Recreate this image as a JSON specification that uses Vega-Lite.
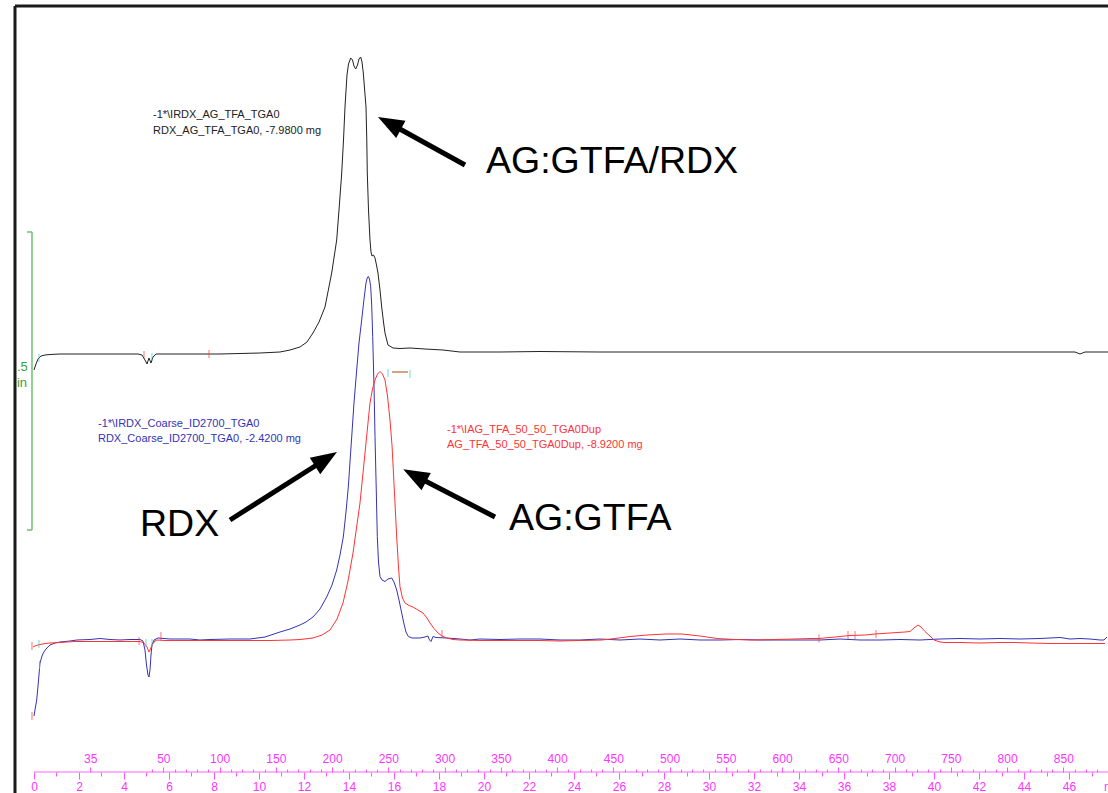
{
  "$schema": "https://vega.github.io/schema/vega-lite/v6.json",
  "autosize": "none",
  "width": 1093,
  "height": 766,
  "padding": {"left": 15, "top": 6, "right": 0, "bottom": 21},
  "background": "white",
  "config": {"view": {"stroke": null}, "font": "Liberation Sans", "text": {"font": "Liberation Sans"}},
  "datasets": {
    "curves": [
      {"series":"AG:GTFA/RDX","t":0,"v":0.800},{"series":"AG:GTFA/RDX","t":0.089,"v":0.812},{"series":"AG:GTFA/RDX","t":0.178,"v":0.822},{"series":"AG:GTFA/RDX","t":0.311,"v":0.828},{"series":"AG:GTFA/RDX","t":0.489,"v":0.830},{"series":"AG:GTFA/RDX","t":0.711,"v":0.831},{"series":"AG:GTFA/RDX","t":1.156,"v":0.832},{"series":"AG:GTFA/RDX","t":2.044,"v":0.832},{"series":"AG:GTFA/RDX","t":2.933,"v":0.832},{"series":"AG:GTFA/RDX","t":3.822,"v":0.832},{"series":"AG:GTFA/RDX","t":4.622,"v":0.832},{"series":"AG:GTFA/RDX","t":4.8,"v":0.830},{"series":"AG:GTFA/RDX","t":4.933,"v":0.820},{"series":"AG:GTFA/RDX","t":5.022,"v":0.812},{"series":"AG:GTFA/RDX","t":5.111,"v":0.824},{"series":"AG:GTFA/RDX","t":5.2,"v":0.814},{"series":"AG:GTFA/RDX","t":5.289,"v":0.826},{"series":"AG:GTFA/RDX","t":5.422,"v":0.832},{"series":"AG:GTFA/RDX","t":5.822,"v":0.832},{"series":"AG:GTFA/RDX","t":6.489,"v":0.832},{"series":"AG:GTFA/RDX","t":7.378,"v":0.832},{"series":"AG:GTFA/RDX","t":8.267,"v":0.832},{"series":"AG:GTFA/RDX","t":9.156,"v":0.833},{"series":"AG:GTFA/RDX","t":10.044,"v":0.834},{"series":"AG:GTFA/RDX","t":10.489,"v":0.835},{"series":"AG:GTFA/RDX","t":10.933,"v":0.836},{"series":"AG:GTFA/RDX","t":11.378,"v":0.840},{"series":"AG:GTFA/RDX","t":11.822,"v":0.846},{"series":"AG:GTFA/RDX","t":12.133,"v":0.856},{"series":"AG:GTFA/RDX","t":12.4,"v":0.874},{"series":"AG:GTFA/RDX","t":12.667,"v":0.896},{"series":"AG:GTFA/RDX","t":12.933,"v":0.926},{"series":"AG:GTFA/RDX","t":13.231,"v":0.994},{"series":"AG:GTFA/RDX","t":13.453,"v":1.060},{"series":"AG:GTFA/RDX","t":13.556,"v":1.120},{"series":"AG:GTFA/RDX","t":13.676,"v":1.194},{"series":"AG:GTFA/RDX","t":13.756,"v":1.260},{"series":"AG:GTFA/RDX","t":13.822,"v":1.326},{"series":"AG:GTFA/RDX","t":13.911,"v":1.390},{"series":"AG:GTFA/RDX","t":13.978,"v":1.412},{"series":"AG:GTFA/RDX","t":14.076,"v":1.424},{"series":"AG:GTFA/RDX","t":14.156,"v":1.420},{"series":"AG:GTFA/RDX","t":14.222,"v":1.408},{"series":"AG:GTFA/RDX","t":14.298,"v":1.402},{"series":"AG:GTFA/RDX","t":14.378,"v":1.410},{"series":"AG:GTFA/RDX","t":14.444,"v":1.422},{"series":"AG:GTFA/RDX","t":14.52,"v":1.426},{"series":"AG:GTFA/RDX","t":14.578,"v":1.416},{"series":"AG:GTFA/RDX","t":14.636,"v":1.394},{"series":"AG:GTFA/RDX","t":14.689,"v":1.364},{"series":"AG:GTFA/RDX","t":14.756,"v":1.326},{"series":"AG:GTFA/RDX","t":14.791,"v":1.260},{"series":"AG:GTFA/RDX","t":14.813,"v":1.194},{"series":"AG:GTFA/RDX","t":14.867,"v":1.120},{"series":"AG:GTFA/RDX","t":14.933,"v":1.060},{"series":"AG:GTFA/RDX","t":14.978,"v":1.036},{"series":"AG:GTFA/RDX","t":15.022,"v":1.028},{"series":"AG:GTFA/RDX","t":15.089,"v":1.030},{"series":"AG:GTFA/RDX","t":15.156,"v":1.024},{"series":"AG:GTFA/RDX","t":15.222,"v":1.010},{"series":"AG:GTFA/RDX","t":15.289,"v":0.994},{"series":"AG:GTFA/RDX","t":15.378,"v":0.960},{"series":"AG:GTFA/RDX","t":15.453,"v":0.926},{"series":"AG:GTFA/RDX","t":15.533,"v":0.896},{"series":"AG:GTFA/RDX","t":15.6,"v":0.874},{"series":"AG:GTFA/RDX","t":15.733,"v":0.850},{"series":"AG:GTFA/RDX","t":15.956,"v":0.844},{"series":"AG:GTFA/RDX","t":16.267,"v":0.843},{"series":"AG:GTFA/RDX","t":16.711,"v":0.844},{"series":"AG:GTFA/RDX","t":17.378,"v":0.842},{"series":"AG:GTFA/RDX","t":18.178,"v":0.840},{"series":"AG:GTFA/RDX","t":18.933,"v":0.836},{"series":"AG:GTFA/RDX","t":20.711,"v":0.836},{"series":"AG:GTFA/RDX","t":22.489,"v":0.837},{"series":"AG:GTFA/RDX","t":25.156,"v":0.836},{"series":"AG:GTFA/RDX","t":29.6,"v":0.836},{"series":"AG:GTFA/RDX","t":34.044,"v":0.836},{"series":"AG:GTFA/RDX","t":38.489,"v":0.836},{"series":"AG:GTFA/RDX","t":42.933,"v":0.836},{"series":"AG:GTFA/RDX","t":46.267,"v":0.836},{"series":"AG:GTFA/RDX","t":46.489,"v":0.832},{"series":"AG:GTFA/RDX","t":46.711,"v":0.836},{"series":"AG:GTFA/RDX","t":47.733,"v":0.836},
      {"series":"RDX","t":0,"v":0.108},{"series":"RDX","t":0.044,"v":0.120},{"series":"RDX","t":0.12,"v":0.140},{"series":"RDX","t":0.191,"v":0.174},{"series":"RDX","t":0.267,"v":0.214},{"series":"RDX","t":0.356,"v":0.228},{"series":"RDX","t":0.413,"v":0.234},{"series":"RDX","t":0.533,"v":0.242},{"series":"RDX","t":0.711,"v":0.250},{"series":"RDX","t":0.933,"v":0.254},{"series":"RDX","t":1.156,"v":0.256},{"series":"RDX","t":1.6,"v":0.258},{"series":"RDX","t":1.911,"v":0.260},{"series":"RDX","t":2.489,"v":0.261},{"series":"RDX","t":2.933,"v":0.263},{"series":"RDX","t":3.378,"v":0.261},{"series":"RDX","t":3.822,"v":0.260},{"series":"RDX","t":4.267,"v":0.261},{"series":"RDX","t":4.711,"v":0.261},{"series":"RDX","t":4.844,"v":0.258},{"series":"RDX","t":4.933,"v":0.240},{"series":"RDX","t":5.0,"v":0.210},{"series":"RDX","t":5.067,"v":0.190},{"series":"RDX","t":5.111,"v":0.186},{"series":"RDX","t":5.156,"v":0.200},{"series":"RDX","t":5.2,"v":0.230},{"series":"RDX","t":5.244,"v":0.250},{"series":"RDX","t":5.333,"v":0.260},{"series":"RDX","t":5.511,"v":0.264},{"series":"RDX","t":6.044,"v":0.262},{"series":"RDX","t":6.933,"v":0.262},{"series":"RDX","t":7.378,"v":0.260},{"series":"RDX","t":7.822,"v":0.261},{"series":"RDX","t":8.711,"v":0.262},{"series":"RDX","t":9.6,"v":0.262},{"series":"RDX","t":10.267,"v":0.266},{"series":"RDX","t":10.933,"v":0.276},{"series":"RDX","t":11.378,"v":0.282},{"series":"RDX","t":11.822,"v":0.290},{"series":"RDX","t":12.089,"v":0.296},{"series":"RDX","t":12.4,"v":0.306},{"series":"RDX","t":12.711,"v":0.322},{"series":"RDX","t":13.009,"v":0.346},{"series":"RDX","t":13.244,"v":0.370},{"series":"RDX","t":13.453,"v":0.400},{"series":"RDX","t":13.6,"v":0.430},{"series":"RDX","t":13.747,"v":0.466},{"series":"RDX","t":13.867,"v":0.516},{"series":"RDX","t":13.969,"v":0.566},{"series":"RDX","t":14.12,"v":0.666},{"series":"RDX","t":14.222,"v":0.734},{"series":"RDX","t":14.342,"v":0.800},{"series":"RDX","t":14.444,"v":0.854},{"series":"RDX","t":14.564,"v":0.900},{"series":"RDX","t":14.667,"v":0.942},{"series":"RDX","t":14.756,"v":0.974},{"series":"RDX","t":14.809,"v":0.984},{"series":"RDX","t":14.858,"v":0.987},{"series":"RDX","t":14.911,"v":0.982},{"series":"RDX","t":14.964,"v":0.967},{"series":"RDX","t":15.009,"v":0.930},{"series":"RDX","t":15.053,"v":0.867},{"series":"RDX","t":15.111,"v":0.770},{"series":"RDX","t":15.156,"v":0.667},{"series":"RDX","t":15.209,"v":0.566},{"series":"RDX","t":15.258,"v":0.467},{"series":"RDX","t":15.311,"v":0.416},{"series":"RDX","t":15.378,"v":0.387},{"series":"RDX","t":15.467,"v":0.380},{"series":"RDX","t":15.6,"v":0.377},{"series":"RDX","t":15.733,"v":0.382},{"series":"RDX","t":15.898,"v":0.384},{"series":"RDX","t":16.0,"v":0.376},{"series":"RDX","t":16.12,"v":0.360},{"series":"RDX","t":16.222,"v":0.340},{"series":"RDX","t":16.342,"v":0.314},{"series":"RDX","t":16.444,"v":0.292},{"series":"RDX","t":16.533,"v":0.276},{"series":"RDX","t":16.636,"v":0.267},{"series":"RDX","t":16.8,"v":0.264},{"series":"RDX","t":17.156,"v":0.264},{"series":"RDX","t":17.378,"v":0.266},{"series":"RDX","t":17.511,"v":0.268},{"series":"RDX","t":17.578,"v":0.260},{"series":"RDX","t":17.644,"v":0.257},{"series":"RDX","t":17.733,"v":0.267},{"series":"RDX","t":17.867,"v":0.265},{"series":"RDX","t":18.342,"v":0.264},{"series":"RDX","t":18.933,"v":0.262},{"series":"RDX","t":19.378,"v":0.260},{"series":"RDX","t":19.822,"v":0.262},{"series":"RDX","t":20.711,"v":0.261},{"series":"RDX","t":21.6,"v":0.262},{"series":"RDX","t":22.489,"v":0.262},{"series":"RDX","t":23.378,"v":0.260},{"series":"RDX","t":24.267,"v":0.260},{"series":"RDX","t":25.156,"v":0.262},{"series":"RDX","t":26.044,"v":0.260},{"series":"RDX","t":26.933,"v":0.262},{"series":"RDX","t":27.822,"v":0.260},{"series":"RDX","t":28.711,"v":0.262},{"series":"RDX","t":29.6,"v":0.260},{"series":"RDX","t":30.489,"v":0.260},{"series":"RDX","t":31.378,"v":0.261},{"series":"RDX","t":32.267,"v":0.260},{"series":"RDX","t":33.156,"v":0.260},{"series":"RDX","t":34.044,"v":0.260},{"series":"RDX","t":34.933,"v":0.260},{"series":"RDX","t":35.822,"v":0.262},{"series":"RDX","t":36.711,"v":0.260},{"series":"RDX","t":37.6,"v":0.260},{"series":"RDX","t":38.489,"v":0.261},{"series":"RDX","t":39.378,"v":0.260},{"series":"RDX","t":40.267,"v":0.262},{"series":"RDX","t":41.156,"v":0.263},{"series":"RDX","t":42.044,"v":0.262},{"series":"RDX","t":42.933,"v":0.263},{"series":"RDX","t":43.822,"v":0.262},{"series":"RDX","t":44.711,"v":0.263},{"series":"RDX","t":45.6,"v":0.265},{"series":"RDX","t":46.044,"v":0.262},{"series":"RDX","t":46.489,"v":0.263},{"series":"RDX","t":46.933,"v":0.262},{"series":"RDX","t":47.378,"v":0.260},{"series":"RDX","t":47.556,"v":0.260},{"series":"RDX","t":47.689,"v":0.266},
      {"series":"AG:GTFA","t":-0.044,"v":0.246},{"series":"AG:GTFA","t":0.089,"v":0.249},{"series":"AG:GTFA","t":0.267,"v":0.251},{"series":"AG:GTFA","t":0.489,"v":0.253},{"series":"AG:GTFA","t":0.711,"v":0.254},{"series":"AG:GTFA","t":1.156,"v":0.255},{"series":"AG:GTFA","t":1.467,"v":0.256},{"series":"AG:GTFA","t":1.822,"v":0.257},{"series":"AG:GTFA","t":2.489,"v":0.257},{"series":"AG:GTFA","t":3.378,"v":0.257},{"series":"AG:GTFA","t":4.267,"v":0.257},{"series":"AG:GTFA","t":4.711,"v":0.257},{"series":"AG:GTFA","t":4.889,"v":0.254},{"series":"AG:GTFA","t":5.022,"v":0.246},{"series":"AG:GTFA","t":5.111,"v":0.236},{"series":"AG:GTFA","t":5.178,"v":0.242},{"series":"AG:GTFA","t":5.244,"v":0.250},{"series":"AG:GTFA","t":5.378,"v":0.258},{"series":"AG:GTFA","t":5.467,"v":0.260},{"series":"AG:GTFA","t":5.822,"v":0.259},{"series":"AG:GTFA","t":6.933,"v":0.259},{"series":"AG:GTFA","t":8.267,"v":0.259},{"series":"AG:GTFA","t":9.6,"v":0.259},{"series":"AG:GTFA","t":10.489,"v":0.259},{"series":"AG:GTFA","t":11.378,"v":0.260},{"series":"AG:GTFA","t":11.822,"v":0.261},{"series":"AG:GTFA","t":12.4,"v":0.264},{"series":"AG:GTFA","t":12.8,"v":0.270},{"series":"AG:GTFA","t":13.156,"v":0.280},{"series":"AG:GTFA","t":13.467,"v":0.302},{"series":"AG:GTFA","t":13.733,"v":0.334},{"series":"AG:GTFA","t":13.956,"v":0.378},{"series":"AG:GTFA","t":14.178,"v":0.434},{"series":"AG:GTFA","t":14.333,"v":0.484},{"series":"AG:GTFA","t":14.489,"v":0.534},{"series":"AG:GTFA","t":14.6,"v":0.584},{"series":"AG:GTFA","t":14.711,"v":0.634},{"series":"AG:GTFA","t":14.822,"v":0.684},{"series":"AG:GTFA","t":14.933,"v":0.734},{"series":"AG:GTFA","t":15.044,"v":0.762},{"series":"AG:GTFA","t":15.156,"v":0.780},{"series":"AG:GTFA","t":15.267,"v":0.792},{"series":"AG:GTFA","t":15.378,"v":0.797},{"series":"AG:GTFA","t":15.489,"v":0.792},{"series":"AG:GTFA","t":15.6,"v":0.780},{"series":"AG:GTFA","t":15.711,"v":0.748},{"series":"AG:GTFA","t":15.822,"v":0.700},{"series":"AG:GTFA","t":15.911,"v":0.650},{"series":"AG:GTFA","t":15.969,"v":0.600},{"series":"AG:GTFA","t":16.044,"v":0.534},{"series":"AG:GTFA","t":16.12,"v":0.466},{"series":"AG:GTFA","t":16.2,"v":0.406},{"series":"AG:GTFA","t":16.267,"v":0.366},{"series":"AG:GTFA","t":16.378,"v":0.344},{"series":"AG:GTFA","t":16.489,"v":0.334},{"series":"AG:GTFA","t":16.667,"v":0.329},{"series":"AG:GTFA","t":16.844,"v":0.326},{"series":"AG:GTFA","t":17.067,"v":0.320},{"series":"AG:GTFA","t":17.289,"v":0.314},{"series":"AG:GTFA","t":17.467,"v":0.304},{"series":"AG:GTFA","t":17.6,"v":0.294},{"series":"AG:GTFA","t":17.778,"v":0.283},{"series":"AG:GTFA","t":17.956,"v":0.274},{"series":"AG:GTFA","t":18.133,"v":0.268},{"series":"AG:GTFA","t":18.342,"v":0.264},{"series":"AG:GTFA","t":18.622,"v":0.261},{"series":"AG:GTFA","t":18.933,"v":0.260},{"series":"AG:GTFA","t":19.822,"v":0.259},{"series":"AG:GTFA","t":20.711,"v":0.259},{"series":"AG:GTFA","t":21.6,"v":0.259},{"series":"AG:GTFA","t":22.489,"v":0.259},{"series":"AG:GTFA","t":23.378,"v":0.258},{"series":"AG:GTFA","t":24.267,"v":0.259},{"series":"AG:GTFA","t":25.244,"v":0.260},{"series":"AG:GTFA","t":25.822,"v":0.263},{"series":"AG:GTFA","t":26.489,"v":0.267},{"series":"AG:GTFA","t":27.244,"v":0.270},{"series":"AG:GTFA","t":28.044,"v":0.272},{"series":"AG:GTFA","t":28.8,"v":0.272},{"series":"AG:GTFA","t":29.6,"v":0.268},{"series":"AG:GTFA","t":30.356,"v":0.263},{"series":"AG:GTFA","t":31.156,"v":0.261},{"series":"AG:GTFA","t":31.911,"v":0.260},{"series":"AG:GTFA","t":32.933,"v":0.261},{"series":"AG:GTFA","t":33.778,"v":0.262},{"series":"AG:GTFA","t":34.489,"v":0.263},{"series":"AG:GTFA","t":34.889,"v":0.263},{"series":"AG:GTFA","t":35.6,"v":0.266},{"series":"AG:GTFA","t":36.267,"v":0.269},{"series":"AG:GTFA","t":36.933,"v":0.270},{"series":"AG:GTFA","t":37.378,"v":0.272},{"series":"AG:GTFA","t":38.044,"v":0.274},{"series":"AG:GTFA","t":38.711,"v":0.276},{"series":"AG:GTFA","t":38.933,"v":0.277},{"series":"AG:GTFA","t":39.111,"v":0.284},{"series":"AG:GTFA","t":39.289,"v":0.290},{"series":"AG:GTFA","t":39.422,"v":0.286},{"series":"AG:GTFA","t":39.6,"v":0.277},{"series":"AG:GTFA","t":39.822,"v":0.268},{"series":"AG:GTFA","t":40.0,"v":0.260},{"series":"AG:GTFA","t":40.267,"v":0.256},{"series":"AG:GTFA","t":40.489,"v":0.255},{"series":"AG:GTFA","t":41.156,"v":0.255},{"series":"AG:GTFA","t":42.044,"v":0.254},{"series":"AG:GTFA","t":42.933,"v":0.255},{"series":"AG:GTFA","t":43.556,"v":0.255},{"series":"AG:GTFA","t":44.267,"v":0.254},{"series":"AG:GTFA","t":45.156,"v":0.253},{"series":"AG:GTFA","t":46.044,"v":0.253},{"series":"AG:GTFA","t":46.667,"v":0.253},{"series":"AG:GTFA","t":47.6,"v":0.253}
    ],
    "markers": [
      {"kind":"cursor","t":0.222,"v":0.824},{"kind":"limit","t":4.889,"v":0.830},{"kind":"cursor","t":5.244,"v":0.826},{"kind":"limit","t":7.778,"v":0.832},
      {"kind":"limit","t":-0.089,"v":0.248},{"kind":"cursor","t":0.222,"v":0.252},{"kind":"cursor","t":0.244,"v":0.210},{"kind":"limit","t":-0.089,"v":0.108},
      {"kind":"limit","t":4.667,"v":0.258},{"kind":"cursor","t":4.978,"v":0.254},{"kind":"cursor","t":5.244,"v":0.254},{"kind":"limit","t":5.644,"v":0.268},
      {"kind":"cursor","t":15.733,"v":0.794},{"kind":"cursor","t":16.711,"v":0.792},{"kind":"limit","t":18.133,"v":0.272},
      {"kind":"limit","t":34.889,"v":0.263},{"kind":"limit","t":36.178,"v":0.270},{"kind":"limit","t":36.489,"v":0.270},{"kind":"limit","t":37.422,"v":0.272}
    ],
    "ranges": [{"t":15.911,"v":0.796,"t2":16.622,"v2":0.796}],
    "notes": [
      {"series":"AG:GTFA/RDX","t":5.289,"v":1.310,"text":"-1*\\IRDX_AG_TFA_TGA0"},
      {"series":"AG:GTFA/RDX","t":5.289,"v":1.278,"text":"RDX_AG_TFA_TGA0, -7.9800 mg"},
      {"series":"RDX","t":2.844,"v":0.692,"text":"-1*\\IRDX_Coarse_ID2700_TGA0"},
      {"series":"RDX","t":2.844,"v":0.662,"text":"RDX_Coarse_ID2700_TGA0, -2.4200 mg"},
      {"series":"AG:GTFA","t":18.356,"v":0.680,"text":"-1*\\IAG_TFA_50_50_TGA0Dup"},
      {"series":"AG:GTFA","t":18.356,"v":0.650,"text":"AG_TFA_50_50_TGA0Dup, -8.9200 mg"}
    ],
    "callouts": [
      {"t":20.089,"v":1.216,"text":"AG:GTFA/RDX"},
      {"t":4.711,"v":0.490,"text":"RDX"},
      {"t":21.111,"v":0.502,"text":"AG:GTFA"}
    ],
    "arrows": [
      {"arrow":"a1","t":19.156,"v":1.210,"t2":15.796,"v2":1.2936},
      {"arrow":"a2","t":8.711,"v":0.500,"t2":12.978,"v2":0.622},
      {"arrow":"a3","t":20.489,"v":0.506,"t2":16.92,"v2":0.589}
    ],
    "frame": [
      {"t":-0.844,"v":1.528,"t2":-0.844,"v2":-0.046},
      {"t":-0.844,"v":1.528,"t2":47.733,"v2":1.528}
    ],
    "scalebar": [
      {"t":-0.089,"v":1.076,"t2":-0.089,"v2":0.480},
      {"t":-0.311,"v":1.076,"t2":-0.089,"v2":1.076},
      {"t":-0.311,"v":0.480,"t2":-0.089,"v2":0.480}
    ],
    "scalelabels": [
      {"t":-0.756,"v":0.806,"text":".5"},
      {"t":-0.756,"v":0.774,"text":"in"}
    ],
    "axisline": [{"t":0,"v":-0.004,"t2":47.733,"v2":-0.004}],
    "unitlabel": [{"t":47.56,"v":-0.034,"text":"min"}]
  },
  "encoding": {
    "x": {"field":"t","type":"quantitative","scale":{"domain":[-0.844,47.733],"nice":false,"zero":false},"axis":null},
    "y": {"field":"v","type":"quantitative","scale":{"domain":[-0.004,1.528],"nice":false,"zero":false},"axis":null}
  },
  "layer": [
    {
      "data": {"name":"curves"},
      "mark": {"type":"line","strokeWidth":1,"clip":true},
      "encoding": {
        "x": {"field":"t","type":"quantitative","scale":{"domain":[-0.844,47.733],"nice":false,"zero":false},
          "axis":{"orient":"bottom","values":[0,2,4,6,8,10,12,14,16,18,20,22,24,26,28,30,32,34,36,38,40,42,44,46],"domain":false,"grid":false,"tickSize":7,"tickColor":"#ff55ff","labelColor":"#ff33ff","labelFontSize":12,"labelFont":"Liberation Sans","labelPadding":2,"labelOverlap":false,"labelFlush":false,"title":null}},
        "color": {"field":"series","type":"nominal","scale":{"domain":["AG:GTFA/RDX","RDX","AG:GTFA"],"range":["#222222","#3333b5","#ff3333"]},"legend":null}
      }
    },
    {
      "data": {"name":"markers"},
      "mark": {"type":"tick","orient":"vertical","size":8,"thickness":1},
      "encoding": {
        "x": {"field":"t","type":"quantitative","scale":{"domain":[-0.844,47.733],"nice":false,"zero":false},
          "axis":{"orient":"bottom","values":[1,3,5,7,9,11,13,15,17,19,21,23,25,27,29,31,33,35,37,39,41,43,45,47],"domain":false,"grid":false,"labels":false,"tickSize":4,"tickColor":"#ff55ff","title":null}},
        "color": {"field":"kind","type":"nominal","scale":{"domain":["limit","cursor"],"range":["#ff3333","#33c8c8"]},"legend":null}
      }
    },
    {
      "data": {"name":"arrows"},
      "mark": {"type":"rule","strokeWidth":5,"color":"#000000","strokeCap":"butt"},
      "encoding": {
        "x": {"field":"t","type":"quantitative","scale":{"domain":[-0.844,47.733],"nice":false,"zero":false},
          "axis":{"orient":"top","offset":-766,"values":[2.5,5.75,8.25,10.75,13.25,15.75,18.25,20.75,23.25,25.75,28.25,30.75,33.25,35.75,38.25,40.75,43.25,45.75],"labelExpr":"datum.value < 5 ? '35' : format(35 + 20 * (datum.value - 5), 'd')","domain":false,"grid":false,"tickSize":5,"tickColor":"#ff55ff","labelColor":"#ff33ff","labelFontSize":12,"labelFont":"Liberation Sans","labelBaseline":"alphabetic","labelPadding":5,"labelOverlap":false,"labelFlush":false,"title":null}},
        "x2": {"field":"t2"},
        "y2": {"field":"v2"}
      }
    },
    {
      "data": {"name":"arrows"},
      "transform": [{"filter":"datum.arrow !== 'a2'"}],
      "mark": {"type":"point","shape":"M0,-1L-0.75,1L0.75,1Z","filled":true,"color":"#000000","opacity":1,"size":676,"angle":298.4},
      "encoding": {
        "x": {"field":"t2","type":"quantitative","scale":{"domain":[-0.844,47.733],"nice":false,"zero":false},
          "axis":{"orient":"top","offset":-766,"values":[5.25,5.75,6.25,6.75,7.25,7.75,8.25,8.75,9.25,9.75,10.25,10.75,11.25,11.75,12.25,12.75,13.25,13.75,14.25,14.75,15.25,15.75,16.25,16.75,17.25,17.75,18.25,18.75,19.25,19.75,20.25,20.75,21.25,21.75,22.25,22.75,23.25,23.75,24.25,24.75,25.25,25.75,26.25,26.75,27.25,27.75,28.25,28.75,29.25,29.75,30.25,30.75,31.25,31.75,32.25,32.75,33.25,33.75,34.25,34.75,35.25,35.75,36.25,36.75,37.25,37.75,38.25,38.75,39.25,39.75,40.25,40.75,41.25,41.75,42.25,42.75,43.25,43.75,44.25,44.75,45.25,45.75,46.25,46.75,47.25],"domain":false,"grid":false,"labels":false,"tickSize":3,"tickColor":"#ff55ff","title":null}},
        "y": {"field":"v2","type":"quantitative","scale":{"domain":[-0.004,1.528],"nice":false,"zero":false},"axis":null}
      }
    },
    {
      "data": {"name":"arrows"},
      "transform": [{"filter":"datum.arrow === 'a2'"}],
      "mark": {"type":"point","shape":"M0,-1L-0.75,1L0.75,1Z","filled":true,"color":"#000000","opacity":1,"size":676,"angle":57.6},
      "encoding": {
        "x": {"field":"t2","type":"quantitative","scale":{"domain":[-0.844,47.733],"nice":false,"zero":false},"axis":null},
        "y": {"field":"v2","type":"quantitative","scale":{"domain":[-0.004,1.528],"nice":false,"zero":false},"axis":null}
      }
    },
    {
      "data": {"name":"notes"},
      "mark": {"type":"text","align":"left","baseline":"middle","fontSize":11,"font":"Liberation Sans"},
      "encoding": {
        "text": {"field":"text"},
        "color": {"field":"series","type":"nominal","scale":{"domain":["AG:GTFA/RDX","RDX","AG:GTFA"],"range":["#222222","#3333b5","#ff3333"]},"legend":null}
      }
    },
    {
      "data": {"name":"callouts"},
      "mark": {"type":"text","align":"left","baseline":"middle","fontSize":37.5,"font":"Liberation Sans","color":"#000000"},
      "encoding": {"text": {"field":"text"}}
    },
    {
      "data": {"name":"ranges"},
      "mark": {"type":"rule","strokeWidth":1.5,"color":"#c08860"},
      "encoding": {"x2": {"field":"t2"}, "y2": {"field":"v2"}}
    },
    {
      "data": {"name":"frame"},
      "mark": {"type":"rule","strokeWidth":3,"color":"#1a1a1a","clip":false},
      "encoding": {"x2": {"field":"t2"}, "y2": {"field":"v2"}}
    },
    {
      "data": {"name":"scalebar"},
      "mark": {"type":"rule","strokeWidth":1.5,"color":"#6cc26c"},
      "encoding": {"x2": {"field":"t2"}, "y2": {"field":"v2"}}
    },
    {
      "data": {"name":"scalelabels"},
      "mark": {"type":"text","align":"left","baseline":"middle","fontSize":13,"font":"Liberation Sans","color":"#3aa03a"},
      "encoding": {"text": {"field":"text"}}
    },
    {
      "data": {"name":"axisline"},
      "mark": {"type":"rule","strokeWidth":1,"color":"#ff66ff"},
      "encoding": {"x2": {"field":"t2"}, "y2": {"field":"v2"}}
    },
    {
      "data": {"name":"unitlabel"},
      "mark": {"type":"text","align":"left","baseline":"middle","fontSize":12,"font":"Liberation Sans","color":"#ff33ff"},
      "encoding": {"text": {"field":"text"}}
    }
  ],
  "resolve": {"axis": {"x": "independent"}, "scale": {"color": "independent"}}
}
